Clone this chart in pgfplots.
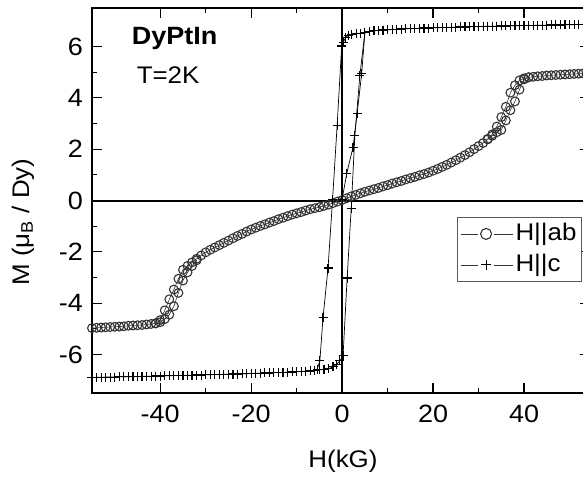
\documentclass[border=0pt]{standalone}
\usepackage{fontspec}
\setmainfont{Liberation Sans}[FakeStretch=1.08]
\usepackage{pgfplots}
\pgfplotsset{compat=1.18}
\begin{document}
\fontsize{24}{28}\selectfont
\begin{tikzpicture}[font=\fontsize{24}{28}\selectfont]
\begin{axis}[
  scale only axis, width=498pt, height=385pt,
  xmin=-55, xmax=54.5, ymin=-7.5, ymax=7.5,
  axis line style={line width=1.8pt},
  tick style={line width=1.3pt, black},
  tick align=inside,
  major tick length=10pt, minor tick length=5pt,
  xtick={-40,-20,0,20,40}, ytick={-6,-4,-2,0,2,4,6},
  minor x tick num=1, minor y tick num=1,
  /pgf/number format/assume math mode=true,
  every tick label/.append style={font=\fontsize{25}{30}\selectfont},
  tick label style={font=\fontsize{25}{30}\selectfont},
  xticklabel style={yshift=-4pt},
  yticklabel style={xshift=-1pt},
  xlabel={H(kG)}, ylabel={M (μ\textsubscript{B} / Dy)},
  label style={font=\fontsize{24}{28}\selectfont},
  xlabel style={at={(axis description cs:0.504,-0.178)}, anchor=center},
  ylabel style={at={(axis description cs:-0.1385,0.444)}, anchor=center},
  legend style={at={(axis cs:25.3,-0.64)}, anchor=north west, draw=black!65, line width=1pt,
    font=\fontsize{24}{28}\selectfont, inner xsep=3pt, inner ysep=4pt, row sep=6pt},
  legend cell align=left,
]
% H||ab main branch
\addplot[black!80, line width=0.6pt, mark=o, mark size=4.4pt, mark options={line width=1.1pt, draw=black!80},
  legend image code/.code={
    \draw[black!80, line width=0.8pt] (0pt,0pt) -- (17pt,0pt);
    \draw[black!80, line width=0.8pt] (33pt,0pt) -- (52pt,0pt);
    \draw[black!80, line width=1.1pt] (25pt,0pt) circle (5.5pt);
  }] coordinates {
(-55,-4.97) (-54,-4.96) (-53,-4.95) (-52,-4.94) (-51,-4.93) (-50,-4.92) (-49,-4.91) (-48,-4.90)
(-47,-4.88) (-46,-4.87) (-45,-4.86) (-44,-4.85) (-43,-4.83) (-42,-4.81) (-41,-4.78) (-40,-4.66)
(-39,-4.28) (-38,-3.85) (-37,-3.47) (-36,-3.05) (-35,-2.70) (-34,-2.55) (-33,-2.41) (-32,-2.27)
(-31,-2.14) (-30,-2.02) (-29,-1.92) (-28,-1.83) (-27,-1.74) (-26,-1.65) (-25,-1.56) (-24,-1.47)
(-23,-1.38) (-22,-1.30) (-21,-1.21) (-20,-1.13) (-19,-1.06) (-18,-0.99) (-17,-0.93) (-16,-0.86)
(-15,-0.80) (-14,-0.73) (-13,-0.67) (-12,-0.61) (-11,-0.55) (-10,-0.50) (-9,-0.45) (-8,-0.39)
(-7,-0.34) (-6,-0.30) (-5,-0.26) (-4,-0.21) (-3,-0.16) (-2,-0.10) (-1,-0.04) (0,0.02)
(1,0.09) (2,0.16) (3,0.22) (4,0.28) (5,0.34) (6,0.39) (7,0.44) (8,0.49)
(9,0.55) (10,0.60) (11,0.66) (12,0.71) (13,0.76) (14,0.82) (15,0.87) (16,0.92)
(17,0.98) (18,1.03) (19,1.09) (20,1.16) (21,1.23) (22,1.31) (23,1.39) (24,1.48)
(25,1.57) (26,1.67) (27,1.77) (28,1.88) (29,2.00) (30,2.12) (31,2.24) (32,2.38)
(33,2.52) (34,2.66) (35,2.75) (36,3.12) (37,3.52) (38,3.86) (39,4.32) (40,4.72)
(41,4.80) (42,4.82) (43,4.84) (44,4.85) (45,4.87) (46,4.88) (47,4.89) (48,4.90)
(49,4.91) (50,4.92) (51,4.93) (52,4.94) (53,4.95) (54,4.96) (55,4.97)
};
\addlegendentry{H||ab}
% H||c : down sweep from +55
\addplot[black, line width=0.7pt, mark=+, mark size=4.5pt, mark options={line width=1.15pt},
  legend image code/.code={
    \draw[black!80, line width=0.8pt] (0pt,0pt) -- (17pt,0pt);
    \draw[black!80, line width=0.8pt] (33pt,0pt) -- (52pt,0pt);
    \draw[black, line width=1.1pt] (20pt,0pt) -- (30pt,0pt) (25pt,-5pt) -- (25pt,5pt);
  }] coordinates {
(55,6.87) (54,6.86) (53,6.86) (52,6.86) (51,6.85) (50,6.85) (49,6.85) (48,6.84) (47,6.84) (46,6.84)
(45,6.83) (44,6.83) (43,6.83) (42,6.82) (41,6.82) (40,6.82) (39,6.81) (38,6.81) (37,6.81) (36,6.80)
(35,6.80) (34,6.79) (33,6.79) (32,6.79) (31,6.78) (30,6.78) (29,6.77) (28,6.77) (27,6.76) (26,6.76)
(25,6.75) (24,6.75) (23,6.74) (22,6.74) (21,6.73) (20,6.73) (19,6.72) (18,6.72) (17,6.71) (16,6.70)
(15,6.70) (14,6.69) (13,6.68) (12,6.67) (11,6.66) (10,6.65) (9,6.64) (8,6.63) (7,6.61) (6,6.58)
(5,6.55) (4,6.52) (3.2,6.50) (2.1,6.48) (1.4,6.43) (0.8,6.36) (0.2,6.15) (-0.1,6.02)
(-1.1,2.93) (-2.1,0.05) (-3.1,-2.63) (-4.2,-4.56) (-4.9,-6.25) (-5.5,-6.58)
(-6,-6.62) (-7,-6.64) (-8,-6.65) (-9,-6.66) (-10,-6.67) (-11,-6.68) (-12,-6.69) (-13,-6.70)
(-14,-6.70) (-15,-6.71) (-16,-6.72) (-17,-6.72) (-18,-6.73) (-19,-6.73) (-20,-6.74) (-21,-6.75)
(-22,-6.75) (-23,-6.76) (-24,-6.76) (-25,-6.77) (-26,-6.77) (-27,-6.78) (-28,-6.78) (-29,-6.79)
(-30,-6.79) (-31,-6.80) (-32,-6.80) (-33,-6.81) (-34,-6.81) (-35,-6.82) (-36,-6.82) (-37,-6.82)
(-38,-6.83) (-39,-6.83) (-40,-6.84) (-41,-6.84) (-42,-6.85) (-43,-6.85) (-44,-6.85) (-45,-6.86)
(-46,-6.86) (-47,-6.87) (-48,-6.87) (-49,-6.87) (-50,-6.88) (-51,-6.88) (-52,-6.88) (-53,-6.89)
(-54,-6.89) (-55,-6.90)
};
\addlegendentry{H||c}
% H||ab second branch in the transitions
\addplot[black!80, line width=0.6pt, mark=o, mark size=4.4pt, mark options={line width=1.1pt, draw=black!80}, forget plot] coordinates {
(-41,-4.79) (-40,-4.74) (-39,-4.62) (-38,-4.45) (-37,-4.12) (-36,-3.60) (-35,-3.12) (-34,-2.80) (-33,-2.55) (-32,-2.33)
};
\addplot[black!80, line width=0.6pt, mark=o, mark size=4.4pt, mark options={line width=1.1pt, draw=black!80}, forget plot] coordinates {
(32,2.40) (33,2.58) (34,2.88) (35,3.25) (36,3.65) (37,4.20) (38,4.49) (39,4.68) (40,4.76) (41,4.80)
};
% H||c up sweep
\addplot[black, line width=0.7pt, mark=+, mark size=4.5pt, mark options={line width=1.15pt}, forget plot] coordinates {
(-6,-6.62) (-5,-6.60) (-4,-6.58) (-3,-6.55) (-2,-6.48) (-1.2,-6.38) (-0.5,-6.25) (0.2,-6.05)
(1.1,-3.02) (2.0,-0.3) (2.8,2.54) (3.9,4.88) (5.0,6.55)
};
% H||c virgin curve
\addplot[black, line width=0.7pt, mark=+, mark size=4.5pt, mark options={line width=1.15pt}, forget plot] coordinates {
(0,0.05) (1.0,1.04) (2.4,2.08) (3.3,3.39) (4.3,4.95) (5.0,6.55)
};
\draw[line width=2pt] (axis cs:-55,0) -- (axis cs:54.5,0);
\draw[line width=2pt] (axis cs:0,-7.5) -- (axis cs:0,7.5);
\node[anchor=base west, inner sep=0pt, font=\fontsize{25}{30}\selectfont\bfseries] at (axis cs:-46.3,6.07) {DyPtIn};
\node[anchor=base west, inner sep=0pt, font=\fontsize{24}{28}\selectfont] at (axis cs:-45.2,4.57) {T=2K};
\end{axis}
\pgfresetboundingbox
\path (-92pt,-84pt) rectangle (491pt,393pt);
\end{tikzpicture}
\end{document}
